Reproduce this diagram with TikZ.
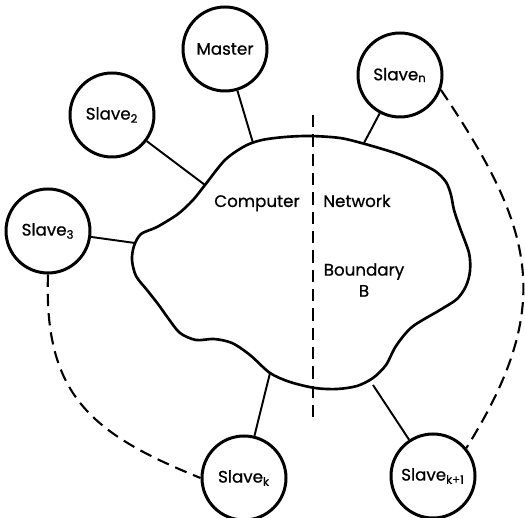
\documentclass[tikz,border=0pt]{standalone}
\usepackage{fontspec}
\setmainfont{Poppins}[FakeBold=0.7]
\begin{document}
\begin{tikzpicture}[x=0.2mm, y=0.2mm,
	station/.style={circle, draw, line width=1.7pt, minimum size=16.8mm, inner sep=0pt, font=\fontsize{9.5}{11}\selectfont},
	link/.style={line width=1.1pt},
	far/.style={line width=1.2pt, dash pattern=on 7pt off 4pt},
	lbl/.style={font=\fontsize{9.5}{12}\selectfont, inner sep=0pt}]
	\useasboundingbox (0,0) rectangle (525,518);

	% the network cloud
	\draw[line width=1.5pt] plot[smooth cycle, tension=0.5] coordinates {
		(262,378) (245,372) (225,358) (205,333) (193,318) (178,304) (157,291) (141,284)
		(134,272) (132,258) (136,242) (147,228) (158,214) (168,200) (180,185) (196,178)
		(214,179) (232,175) (250,163) (270,145) (290,136) (315,130) (337,129) (357,132)
		(373,140) (386,153) (396,172) (412,191) (440,208) (457,219) (466,232) (470,247)
		(469,265) (460,290) (454,308) (451,323) (446,336) (435,347) (415,357) (395,365)
		(365,374) (340,380) (310,382) (285,381)};
	\coordinate (am) at (253,375);
	\coordinate (a2) at (205,333);
	\coordinate (a3) at (135,275);
	\coordinate (an) at (364,375);
	\coordinate (ak) at (270,145);
	\coordinate (ak1) at (373,133);
	\coordinate (btop) at (313,403);
	\coordinate (bbot) at (313,97);

	\node[station] (master) at (225,469) {Master};
	\node[station] (s2) at (112,403) {Slave\textsubscript{2}};
	\node[station] (s3) at (48,287) {Slave\textsubscript{3}};
	\node[station] (sn) at (400,443) {Slave\textsubscript{n}};
	\node[station] (sk) at (244,40) {Slave\textsubscript{k}};
	\node[station] (sk1) at (433,42) {Slave\textsubscript{k+1}};

	\node[lbl, anchor=base] (comp) at (257,311) {Computer};
	\node[lbl, anchor=base] (net) at (357,311) {Network};
	\node[lbl, align=center] (bnd) at (364,238) {Boundary\\B};

	\path[link] (master) edge (am);
	\path[link] (s2) edge (a2);
	\path[link] (s3) edge (a3);
	\path[link] (sn) edge (an);
	\path[link] (sk) edge (ak);
	\path[link] (sk1) edge (ak1);

	% boundary B
	\path[far] (btop) edge (bbot);
	\path[far] (s3.south) edge [out=-92, in=158, looseness=1.2] (sk.west);
	\path[far] (sn.-20) edge [out=-56, in=58, looseness=1.2] (sk1.40);
\end{tikzpicture}
\end{document}
